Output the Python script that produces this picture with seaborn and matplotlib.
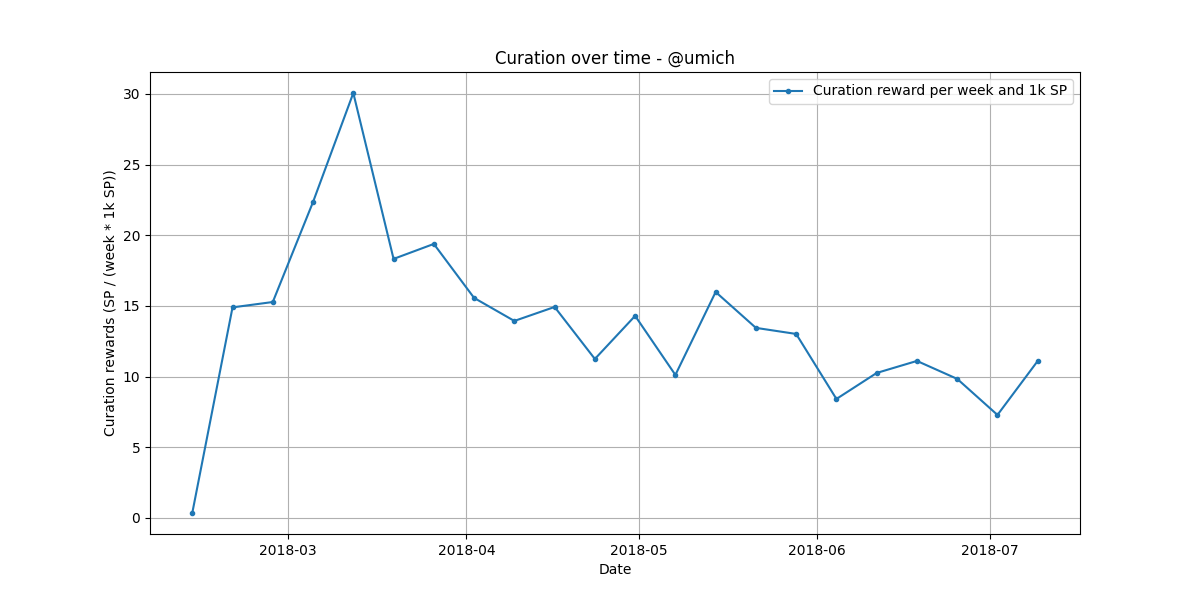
import matplotlib
matplotlib.use("Agg")
import matplotlib.pyplot as plt
import seaborn as sns
import pandas as pd

dates = pd.date_range("2018-02-12 08:00", periods=22, freq="7D")
rewards = [0.35, 14.9, 15.28, 22.36, 30.07, 18.33, 19.39, 15.57, 13.94, 14.93,
           11.25, 14.30, 10.12, 15.99, 13.45, 13.02, 8.42, 10.26, 11.11, 9.84,
           7.29, 11.11]
series_label = "Curation reward per week and 1k SP"

df = pd.DataFrame({"Date": dates, "reward": rewards})

fig, ax = plt.subplots(figsize=(12, 6), dpi=100)
sns.lineplot(data=df, x="Date", y="reward", ax=ax, marker=".", color="C0",
             markeredgecolor="C0", markeredgewidth=1, markersize=6,
             label=series_label)
ax.grid(True)
ax.set_xlabel("Date")
ax.set_ylabel("Curation rewards (SP / (week * 1k SP))")
ax.set_title("Curation over time - @umich")
ax.legend(loc="upper right")
import matplotlib.dates as mdates
ax.xaxis.set_major_locator(mdates.MonthLocator())
ax.xaxis.set_major_formatter(mdates.DateFormatter("%Y-%m"))
fig.savefig("out.png", dpi=100)
